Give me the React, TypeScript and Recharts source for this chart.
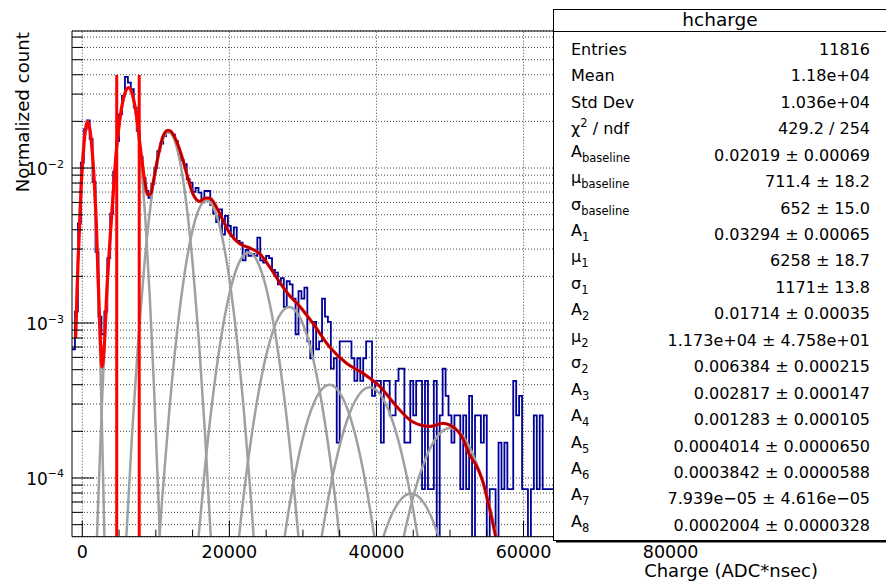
import React from 'react';
import { ComposedChart, Line, XAxis, YAxis, CartesianGrid, ReferenceLine } from 'recharts';

const FONT = "'DejaVu Sans', sans-serif";

// ---------- axis ranges / ticks ----------
const X_MIN = -1400;
const X_MAX = 100000;
const Y_MIN = 4.18e-5;
const Y_MAX = 0.0766;

const X_MAJOR_TICKS = [0, 20000, 40000, 60000, 80000];
const X_ALL_TICKS = [0, 5000, 10000, 15000, 20000, 25000, 30000, 35000, 40000, 45000, 50000, 55000, 60000, 65000, 70000, 75000, 80000, 85000, 90000, 95000];
const Y_MAJOR_TICKS = [1e-4, 1e-3, 1e-2];
const Y_ALL_TICKS = [
  5e-5, 6e-5, 7e-5, 8e-5, 9e-5,
  1e-4, 2e-4, 3e-4, 4e-4, 5e-4, 6e-4, 7e-4, 8e-4, 9e-4,
  1e-3, 2e-3, 3e-3, 4e-3, 5e-3, 6e-3, 7e-3, 8e-3, 9e-3,
  1e-2, 2e-2, 3e-2, 4e-2, 5e-2, 6e-2, 7e-2,
];

// ---------- histogram (counts per 400-wide bin, first bin starts at -1400) ----------
const ENTRIES = 11816;
const BIN_LOW = -1400;
const BIN_WIDTH = 400;
const HIST_COUNTS = [
  8, 14, 52, 128, 210, 240, 182, 96, 34, 13,
  10, 14, 31, 60, 112, 176, 262, 345, 458, 420,
  382, 290, 205, 140, 102, 84, 76, 93, 118, 152,
  170, 190, 206, 200, 194, 176, 146, 133, 125, 100,
  95, 83, 88, 82, 71, 84, 84, 68, 60, 53,
  64, 44, 58, 50, 43, 49, 40, 39, 30, 35,
  32, 33, 32, 42, 30, 29, 32, 31, 26, 25,
  21, 23, 15, 22, 21, 17, 10, 19, 17, 20,
  9, 7, 12, 8, 9, 17, 13, 12, 6, 7,
  2, 9, 9, 9, 9, 7, 5, 7, 5, 7,
  9, 9, 4, 5, 5, 2, 5, 5, 3, 3,
  5, 6, 6, 2, 2, 5, 3, 5, 5, 1,
  5, 1, 1, 5, 0, 3, 6, 4, 3, 2,
  3, 3, 1, 3, 1, 4, 0, 3, 3, 2,
  3, 0, 1, 1, 0, 2, 1, 2, 1, 1,
  5, 3, 4, 1, 1, 0, 1, 3, 1, 3,
  1, 1, 1, 1,
];
const ZERO_FLOOR = 1e-7;

// ---------- total fit curve ----------
const FIT_X = [-900, -600, -370, -150, 80, 400, 760, 1100, 1440, 1900, 2350, 2700, 3050, 3300, 3700, 4160, 4630, 5070, 5760, 6300, 6800, 7200, 7560, 8030, 8480, 8930, 9300, 9600, 10290, 10970, 11650, 12000, 12560, 13470, 14370, 15050, 15960, 16700, 17320, 18230, 19130, 20040, 21400, 22760, 24120, 25480, 26840, 28200, 29560, 31330, 33640, 35920, 38140, 40450, 42720, 44940, 47250, 49020, 50880, 51740, 52690, 53600, 54460, 55400, 56200];
const FIT_Y = [8.0e-4, 2.3e-3, 4.2e-3, 7.6e-3, 1.13e-2, 1.72e-2, 2.0e-2, 1.69e-2, 1.13e-2, 4.5e-3, 1.05e-3, 5.2e-4, 8.0e-4, 1.5e-3, 3.1e-3, 6.4e-3, 1.3e-2, 2.0e-2, 3.0e-2, 3.3e-2, 3.0e-2, 2.45e-2, 1.85e-2, 1.2e-2, 8.3e-3, 6.7e-3, 6.8e-3, 7.9e-3, 1.18e-2, 1.6e-2, 1.75e-2, 1.73e-2, 1.58e-2, 1.22e-2, 8.6e-3, 6.8e-3, 6.1e-3, 6.4e-3, 6.4e-3, 5.6e-3, 4.6e-3, 3.8e-3, 3.25e-3, 3.05e-3, 2.8e-3, 2.3e-3, 1.83e-3, 1.5e-3, 1.28e-3, 1.0e-3, 7.0e-4, 5.5e-4, 4.75e-4, 3.9e-4, 2.9e-4, 2.3e-4, 2.15e-4, 2.25e-4, 2.05e-4, 1.8e-4, 1.4e-4, 1.2e-4, 9.5e-5, 6.3e-5, 4.2e-5];
const FIT_DARK_FROM = 8480;

// ---------- fit components (grey) ----------
const G0_X = [-900, -593, -267, 59, 385, 711, 1037, 1363, 1689, 2015, 2341, 2667, 2993, 3319];
const G0_Y = [9.6e-4, 2.73e-3, 6.56e-3, 1.225e-2, 1.783e-2, 2.02e-2, 1.783e-2, 1.225e-2, 6.56e-3, 2.73e-3, 8.87e-4, 2.24e-4, 4.42e-5, 6.8e-6];
const G1_X = [1574, 2171, 2745, 3330, 3916, 4502, 5087, 5673, 6258, 6844, 7429, 8015, 8600, 9186, 9771, 10357, 10942];
const G1_Y = [1.1e-5, 7.2e-5, 3.66e-4, 1.44e-3, 4.45e-3, 1.068e-2, 1.995e-2, 2.903e-2, 3.29e-2, 2.903e-2, 1.995e-2, 1.068e-2, 4.45e-3, 1.44e-3, 3.66e-4, 7.2e-5, 1.1e-5];
const G2_X = [5106, 5934, 6762, 7590, 8418, 9246, 10074, 10902, 11730, 12558, 13386, 14214, 15042, 15870, 16698, 17526, 18354];
const G2_Y = [5.7e-6, 3.74e-5, 1.9e-4, 7.5e-4, 2.31e-3, 5.55e-3, 1.037e-2, 1.509e-2, 1.71e-2, 1.509e-2, 1.037e-2, 5.55e-3, 2.31e-3, 7.5e-4, 1.9e-4, 3.74e-5, 5.7e-6];
const G3_X = [8788, 9802, 10816, 11830, 12844, 13858, 14872, 15886, 16900, 17914, 18928, 19942, 20956, 21970, 22984, 23998, 25012];
const G3_Y = [2.08e-6, 1.36e-5, 6.89e-5, 2.72e-4, 8.39e-4, 2.01e-3, 3.76e-3, 5.47e-3, 6.2e-3, 5.47e-3, 3.76e-3, 2.01e-3, 8.39e-4, 2.72e-4, 6.89e-5, 1.36e-5, 2.08e-6];
const G4_X = [13232, 14403, 15574, 16745, 17916, 19087, 20258, 21429, 22600, 23771, 24942, 26113, 27284, 28455, 29626, 30797, 31968];
const G4_Y = [9.5e-7, 6.2e-6, 3.17e-5, 1.25e-4, 3.86e-4, 9.25e-4, 1.73e-3, 2.52e-3, 2.85e-3, 2.52e-3, 1.73e-3, 9.25e-4, 3.86e-4, 1.25e-4, 3.17e-5, 6.2e-6, 9.5e-7];
const G5_X = [17668, 18977, 20286, 21595, 22904, 24213, 25522, 26831, 28140, 29449, 30758, 32067, 33376, 34685, 35994, 37303, 38612];
const G5_Y = [4.3e-7, 2.78e-6, 1.41e-5, 5.58e-5, 1.72e-4, 4.12e-4, 7.7e-4, 1.12e-3, 1.27e-3, 1.12e-3, 7.7e-4, 4.12e-4, 1.72e-4, 5.58e-5, 1.41e-5, 2.78e-6, 4.3e-7];
const G6_X = [22138, 23572, 25006, 26440, 27874, 29308, 30742, 32176, 33610, 35044, 36478, 37912, 39346, 40780, 42214, 43648, 45082];
const G6_Y = [1.34e-7, 8.7e-7, 4.44e-6, 1.76e-5, 5.41e-5, 1.3e-4, 2.43e-4, 3.53e-4, 4.0e-4, 3.53e-4, 2.43e-4, 1.3e-4, 5.41e-5, 1.76e-5, 4.44e-6, 8.7e-7, 1.34e-7];
const G7_X = [26688, 28237, 29786, 31335, 32884, 34433, 35982, 37531, 39080, 40629, 42178, 43727, 45276, 46825, 48374, 49923, 51472];
const G7_Y = [1.29e-7, 8.4e-7, 4.28e-6, 1.69e-5, 5.21e-5, 1.25e-4, 2.34e-4, 3.4e-4, 3.85e-4, 3.4e-4, 2.34e-4, 1.25e-4, 5.21e-5, 1.69e-5, 4.28e-6, 8.4e-7, 1.29e-7];
const G8_X = [34764, 36420, 38076, 39732, 41388, 43044, 44700, 46356, 48012, 49668, 51324, 52980, 54636];
const G8_Y = [8.8e-7, 3.49e-6, 1.07e-5, 2.58e-5, 4.82e-5, 7.01e-5, 7.94e-5, 7.01e-5, 4.82e-5, 2.58e-5, 1.07e-5, 3.49e-6, 8.8e-7];
const G9_X = [35968, 37725, 39481, 41238, 42994, 44751, 46507, 48264, 50020, 51777, 53533, 55290, 56200];
const G9_Y = [7.0e-8, 4.59e-7, 2.33e-6, 9.2e-6, 2.84e-5, 6.82e-5, 1.27e-4, 1.85e-4, 2.1e-4, 1.85e-4, 1.27e-4, 6.82e-5, 4.46e-5];

// ---------- red vertical markers ----------
const MARKER_X = [4680, 7740];
const MARKER_TOP = 0.0398;

// ---------- stats box ----------
const STAT_TITLE = 'hcharge';
const STAT_LABELS = ['Entries', 'Mean', 'Std Dev', 'χ^2 / ndf', 'A_baseline', 'μ_baseline', 'σ_baseline', 'A_1', 'μ_1', 'σ_1', 'A_2', 'μ_2', 'σ_2', 'A_3', 'A_4', 'A_5', 'A_6', 'A_7', 'A_8'];
const STAT_VALUES = ['11816', '1.18e+04', '1.036e+04', '429.2 / 254', '0.02019 ± 0.00069', '711.4 ± 18.2', '652 ± 15.0', '0.03294 ± 0.00065', '6258 ± 18.7', '1171± 13.8', '0.01714 ± 0.00035', '1.173e+04 ± 4.758e+01', '0.006384 ± 0.000215', '0.002817 ± 0.000147', '0.001283 ± 0.000105', '0.0004014 ± 0.0000650', '0.0003842 ± 0.0000588', '7.939e\u221205 ± 4.616e\u221205', '0.0002004 ± 0.0000328'];

const X_TITLE = 'Charge (ADC*nsec)';
const Y_TITLE = 'Normalized count';

const toPoints = (xs: number[], ys: number[]) => xs.map((x, i) => ({ x, y: ys[i] }));

const GREY_SERIES = [
  toPoints(G0_X, G0_Y), toPoints(G1_X, G1_Y), toPoints(G2_X, G2_Y), toPoints(G3_X, G3_Y),
  toPoints(G4_X, G4_Y), toPoints(G5_X, G5_Y), toPoints(G6_X, G6_Y), toPoints(G7_X, G7_Y),
  toPoints(G8_X, G8_Y), toPoints(G9_X, G9_Y),
];

// bottom axis: inward ticks + labels
const BottomTick = (props: any) => {
  const { x, y, payload } = props;
  const major = X_MAJOR_TICKS.includes(payload.value);
  return (
    <g>
      <line x1={x} x2={x} y1={y} y2={y - (major ? 16 : 7)} stroke="#000" strokeWidth={1} />
      {major && (
        <text x={x} y={y + 21} textAnchor="middle" fontFamily={FONT} fontSize={17.5} fill="#000">
          {payload.value}
        </text>
      )}
    </g>
  );
};

// top axis: inward ticks only
const TopTick = (props: any) => {
  const { x, y, payload } = props;
  const major = X_MAJOR_TICKS.includes(payload.value);
  return <line x1={x} x2={x} y1={y} y2={y + (major ? 16 : 7)} stroke="#000" strokeWidth={1} />;
};

// left axis: inward ticks + 10^n labels
const LeftTick = (props: any) => {
  const { x, y, payload } = props;
  const major = Y_MAJOR_TICKS.includes(payload.value);
  const e = Math.round(Math.log10(payload.value));
  return (
    <g>
      <line x1={x} x2={x + (major ? 22 : 11)} y1={y} y2={y} stroke="#000" strokeWidth={1} />
      {major && (
        <text x={x - 8} y={y} textAnchor="end" fontFamily={FONT} fontSize={17} fill="#000">
          <tspan dy={7}>10</tspan>
          <tspan dy={-7.5} fontSize={11}>{'\u2212' + Math.abs(e)}</tspan>
        </text>
      )}
    </g>
  );
};

const renderLabel = (s: string) => {
  if (s.includes('^')) {
    const [a, rest] = s.split('^');
    return (
      <>
        {a}
        <tspan dy={-7} fontSize={11.5}>{rest[0]}</tspan>
        <tspan dy={7} fontSize={16}>{rest.slice(1)}</tspan>
      </>
    );
  }
  if (s.includes('_')) {
    const [a, b] = s.split('_');
    return (
      <>
        <tspan dy={-4}>{a}</tspan>
        <tspan dy={5} fontSize={11.5}>{b}</tspan>
      </>
    );
  }
  return s;
};

export default function App() {
  const histData = HIST_COUNTS.map((c, i) => ({
    x: BIN_LOW + i * BIN_WIDTH,
    y: c > 0 ? c / ENTRIES : ZERO_FLOOR,
  }));
  const lastC = HIST_COUNTS[HIST_COUNTS.length - 1];
  histData.push({ x: BIN_LOW + HIST_COUNTS.length * BIN_WIDTH, y: lastC > 0 ? lastC / ENTRIES : ZERO_FLOOR });

  const fitData = toPoints(FIT_X, FIT_Y);
  const fitDark = fitData.filter((p) => p.x >= FIT_DARK_FROM);

  const rowY0 = 49;
  const rowStep = 26.45;
  const axisLine = { stroke: '#000', strokeWidth: 1 };

  return (
    <div style={{ position: 'absolute', left: 0, top: 0, width: 886, height: 582, overflow: 'hidden', background: '#fff' }}>
      <ComposedChart width={886} height={582} margin={{ top: 30, right: 68.3, bottom: 44.3, left: 71 }}>
        <XAxis xAxisId="x" dataKey="x" type="number" domain={[X_MIN, X_MAX]} allowDataOverflow ticks={X_ALL_TICKS} interval={0}
          height={1} tickSize={0} tickMargin={0} tick={BottomTick} tickLine={false} axisLine={axisLine} />
        <XAxis xAxisId="xt" orientation="top" type="number" domain={[X_MIN, X_MAX]} allowDataOverflow ticks={X_ALL_TICKS} interval={0}
          height={1} tickSize={0} tickMargin={0} tick={TopTick} tickLine={false} axisLine={axisLine} />
        <YAxis yAxisId="y" type="number" scale="log" domain={[Y_MIN, Y_MAX]} allowDataOverflow ticks={Y_ALL_TICKS} interval={0}
          width={1} tickSize={0} tickMargin={0} tick={LeftTick} tickLine={false} axisLine={axisLine} />
        <CartesianGrid xAxisId="x" yAxisId="y" vertical={false} strokeDasharray="1 2" stroke="#444" strokeWidth={1} />
        {X_MAJOR_TICKS.map((gx) => (
          <ReferenceLine key={'vg' + gx} xAxisId="x" yAxisId="y" x={gx} stroke="#444" strokeWidth={1} strokeDasharray="1 2" ifOverflow="hidden" />
        ))}

        <Line xAxisId="x" yAxisId="y" data={histData} dataKey="y" type="stepAfter" stroke="#000099" strokeWidth={1.8}
          dot={false} activeDot={false} isAnimationActive={false} />
        {GREY_SERIES.map((d, i) => (
          <Line key={'g' + i} xAxisId="x" yAxisId="y" data={d} dataKey="y" type="monotone" stroke="#a0a0a0" strokeWidth={2.5}
            dot={false} activeDot={false} isAnimationActive={false} />
        ))}
        {MARKER_X.map((mx, i) => (
          <Line key={'m' + i} xAxisId="x" yAxisId="y" data={[{ x: mx, y: Y_MIN }, { x: mx, y: MARKER_TOP }]} dataKey="y" type="linear"
            stroke="#ff0000" strokeWidth={3} dot={false} activeDot={false} isAnimationActive={false} />
        ))}
        <Line xAxisId="x" yAxisId="y" data={fitData} dataKey="y" type="monotone" stroke="#ff0000" strokeWidth={3.2}
          dot={false} activeDot={false} isAnimationActive={false} />
        <Line xAxisId="x" yAxisId="y" data={fitDark} dataKey="y" type="monotone" stroke="#990000" strokeWidth={1.6}
          dot={false} activeDot={false} isAnimationActive={false} />
      </ComposedChart>

      <svg width={886} height={582} style={{ position: 'absolute', left: 0, top: 0, pointerEvents: 'none' }} fontFamily={FONT}>
        <text transform="rotate(-90 28.5 32)" x={28.5} y={32} textAnchor="end" fontSize={18.2} fill="#000">{Y_TITLE}</text>
        <text x={818} y={577} textAnchor="end" fontSize={18} fill="#000">{X_TITLE}</text>

        <rect x={553.5} y={9.5} width={340} height={531} fill="#fff" stroke="#000" strokeWidth={1} />
        <line x1={556} x2={890} y1={541.5} y2={541.5} stroke="#000" strokeWidth={2} />
        <line x1={553} x2={890} y1={31.5} y2={31.5} stroke="#000" strokeWidth={1} />
        <text x={720} y={26} textAnchor="middle" fontSize={18.5} fill="#000">{STAT_TITLE}</text>
        {STAT_LABELS.map((lab, i) => {
          const base = rowY0 + rowStep * i + 5.8;
          return (
            <g key={'r' + i}>
              <text x={571} y={base} fontSize={16} fill="#000">{renderLabel(lab)}</text>
              <text x={870} y={base} textAnchor="end" fontSize={16} fill="#000">{STAT_VALUES[i]}</text>
            </g>
          );
        })}
      </svg>
    </div>
  );
}
